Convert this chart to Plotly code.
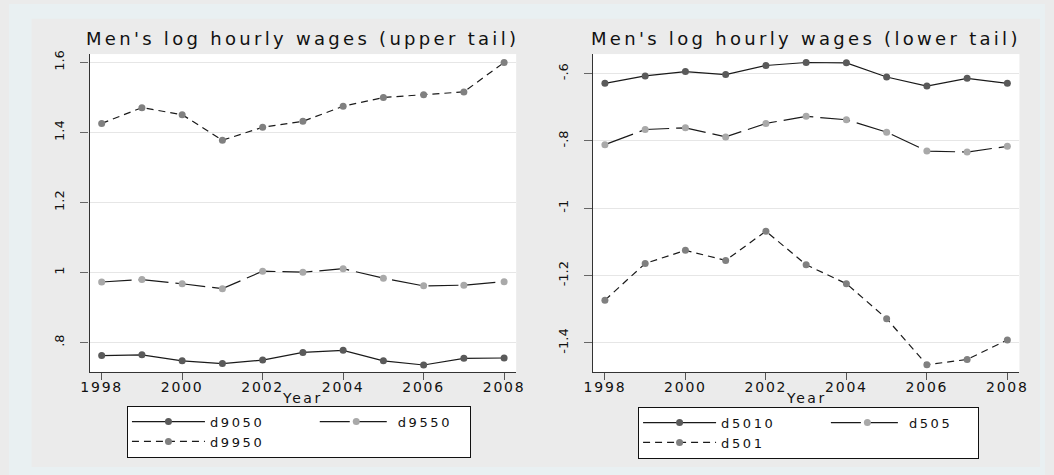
import plotly.graph_objects as go

# ---------------- data ----------------
years = [1998, 1999, 2000, 2001, 2002, 2003, 2004, 2005, 2006, 2007, 2008]

d9050 = [0.763, 0.765, 0.748, 0.740, 0.750, 0.772, 0.778, 0.748, 0.736, 0.755, 0.756]
d9550 = [0.973, 0.980, 0.968, 0.954, 1.004, 1.001, 1.011, 0.984, 0.962, 0.964, 0.974]
d9950 = [1.426, 1.471, 1.451, 1.378, 1.415, 1.432, 1.475, 1.500, 1.508, 1.516, 1.600]

d5010 = [-0.629, -0.607, -0.594, -0.603, -0.576, -0.567, -0.568, -0.610, -0.637, -0.614, -0.629]
d505 = [-0.811, -0.766, -0.761, -0.788, -0.748, -0.727, -0.737, -0.774, -0.830, -0.833, -0.816]
d501 = [-1.273, -1.164, -1.125, -1.155, -1.068, -1.168, -1.224, -1.328, -1.465, -1.449, -1.391]

x_ticks = [1998, 2000, 2002, 2004, 2006, 2008]
left_yticks = [0.8, 1.0, 1.2, 1.4, 1.6]
left_ytext = [".8", "1", "1.2", "1.4", "1.6"]
right_yticks = [-1.4, -1.2, -1.0, -0.8, -0.6]
right_ytext = ["-1.4", "-1.2", "-1", "-.8", "-.6"]

title_left = "Men's log hourly wages (upper tail)"
title_right = "Men's log hourly wages (lower tail)"
xlabel = "Year"

# ---------------- styling ----------------
FONT = "DejaVu Sans"
W, H = 1054, 475
OUTER_BG = "#e9f0f2"
PANEL_BG = "#ebebeb"
LINE_C = "#1a1a1a"
DARK_M = "#5a5a5a"
LIGHT_M = "#a9a9a9"
MID_M = "#808080"
SHORT_DASH = "7px,5px"
LONG_DASH = "30px,7px"
NB = "&nbsp;"


def sp(text, ls):
    return f'<span style="letter-spacing:{ls}px">{text}</span>'


fig = go.Figure()

# (name, values, dash, marker colour, legend group, legend padding)
series_left = [
    ("d9050", d9050, "solid", DARK_M, "a", 11),
    ("d9550", d9550, LONG_DASH, LIGHT_M, "b", 3),
    ("d9950", d9950, SHORT_DASH, MID_M, "a", 0),
]
series_right = [
    ("d5010", d5010, "solid", DARK_M, "a", 11),
    ("d505", d505, LONG_DASH, LIGHT_M, "b", 5),
    ("d501", d501, SHORT_DASH, MID_M, "a", 0),
]

for name, vals, dash, mc, grp, pad in series_left:
    fig.add_trace(go.Scatter(
        x=years, y=vals, name=sp(name, 2.6) + NB * pad, mode="lines+markers",
        line=dict(color=LINE_C, width=1.2, dash=dash),
        marker=dict(color=mc, size=7),
        xaxis="x", yaxis="y", legend="legend", legendgroup="L" + grp,
    ))

for name, vals, dash, mc, grp, pad in series_right:
    fig.add_trace(go.Scatter(
        x=years, y=vals, name=sp(name, 2.6) + NB * pad, mode="lines+markers",
        line=dict(color=LINE_C, width=1.2, dash=dash),
        marker=dict(color=mc, size=7),
        xaxis="x2", yaxis="y2", legend="legend2", legendgroup="R" + grp,
    ))

xdom_l = [82 / W, 516 / W]
xdom_r = [594 / W, 1028 / W]
ydom = [1 - 371 / H, 1 - 50.5 / H]

xcommon = dict(
    range=[1997.7, 2008.3], tickvals=x_ticks,
    ticktext=[sp(str(t), 1.8) for t in x_ticks],
    showline=True, linecolor="#333", linewidth=1.2,
    ticks="outside", ticklen=7, tickcolor="#555", tickwidth=1,
    ticklabelstandoff=-5,
    showgrid=False, zeroline=False,
    tickfont=dict(family=FONT, size=14, color="#111"),
    fixedrange=True,
)
ycommon = dict(
    showline=True, linecolor="#333", linewidth=1.2,
    ticks="outside", ticklen=8, tickcolor="#666", tickwidth=1,
    ticklabelstandoff=11,
    showgrid=True, gridcolor="#e6e6e6", gridwidth=1, zeroline=False,
    tickangle=-90,
    tickfont=dict(family=FONT, size=13, color="#111"),
    fixedrange=True,
)

legend_common = dict(
    orientation="h", traceorder="grouped", yanchor="top", xanchor="left",
    bgcolor="white", bordercolor="#111", borderwidth=1,
    itemwidth=73,
    font=dict(family=FONT, size=13, color="#111"),
    itemclick=False, itemdoubleclick=False,
)

outer_strips = [
    (0, W, 0, 15), (0, W, 467, H), (0, 23, 0, H), (1049, W, 0, H),
]

fig.update_layout(
    width=W, height=H,
    margin=dict(l=0, r=0, t=0, b=0),
    paper_bgcolor=PANEL_BG,
    plot_bgcolor="white",
    font=dict(family=FONT, color="#111"),
    xaxis=dict(domain=xdom_l, anchor="y", **xcommon),
    yaxis=dict(domain=ydom, anchor="x", range=[0.7164, 1.624],
               tickvals=left_yticks, ticktext=left_ytext, **ycommon),
    xaxis2=dict(domain=xdom_r, anchor="y2", **xcommon),
    yaxis2=dict(domain=ydom, anchor="x2", range=[-1.486, -0.542],
                tickvals=right_yticks, ticktext=right_ytext, **ycommon),
    legend=dict(x=120 / W, y=1 - 405 / H, **legend_common),
    legend2=dict(x=640 / W, y=1 - 406 / H, **legend_common),
    shapes=[dict(type="rect", xref="paper", yref="paper",
                 x0=a / W, x1=b / W, y0=1 - d / H, y1=1 - c / H,
                 fillcolor=OUTER_BG, line=dict(width=0), layer="below")
            for a, b, c, d in outer_strips],
    annotations=[
        dict(text=sp(title_left, 3.3), x=sum(xdom_l) / 2, y=1 - 35 / H,
             xref="paper", yref="paper", showarrow=False, xanchor="center",
             yanchor="middle", font=dict(family=FONT, size=18, color="#111")),
        dict(text=sp(title_right, 3.3), x=sum(xdom_r) / 2, y=1 - 35 / H,
             xref="paper", yref="paper", showarrow=False, xanchor="center",
             yanchor="middle", font=dict(family=FONT, size=18, color="#111")),
        dict(text=sp(xlabel, 2.5), x=sum(xdom_l) / 2, y=1 - 397 / H,
             xref="paper", yref="paper", showarrow=False, xanchor="center",
             yanchor="middle", font=dict(family=FONT, size=14, color="#111")),
        dict(text=sp(xlabel, 2.5), x=sum(xdom_r) / 2, y=1 - 397 / H,
             xref="paper", yref="paper", showarrow=False, xanchor="center",
             yanchor="middle", font=dict(family=FONT, size=14, color="#111")),
    ],
    showlegend=True,
)

fig.write_html("out.html", config={"displayModeBar": False},
               post_script="document.body.style.margin='0';document.body.style.background='" + OUTER_BG + "';")
